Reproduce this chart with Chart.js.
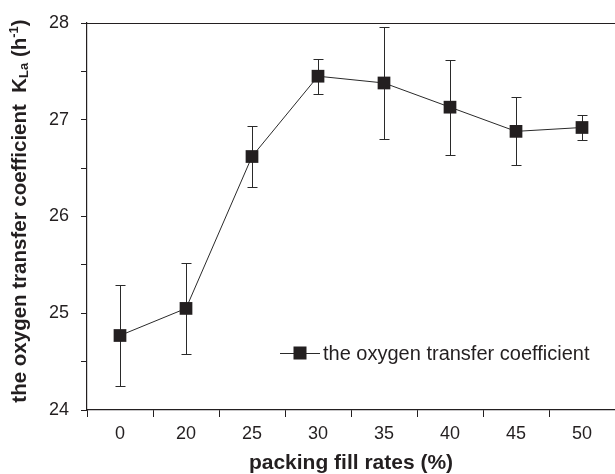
<!DOCTYPE html>
<html><head><meta charset="utf-8">
<script src="https://cdn.jsdelivr.net/npm/chart.js@4"></script>
<style>html,body{margin:0;padding:0;overflow:hidden;background:#fff}#wrap{width:624px;height:474px}</style>
</head><body><div id="wrap"><canvas id="c" width="624" height="474"></canvas></div>
<script>
const fillRates = ['0', '20', '25', '30', '35', '40', '45', '50'];
const klaValues = [24.77, 25.05, 26.62, 27.45, 27.38, 27.13, 26.88, 26.92];
const klaErrors = [0.52, 0.47, 0.32, 0.18, 0.58, 0.49, 0.35, 0.13];
const seriesName = 'the oxygen transfer coefficient';
const xTitle = 'packing fill rates (%)';
const yTitleParts = [['the oxygen transfer coefficient  K', 'n'], ['La', 'sub'], [' (h', 'n'], ['-1', 'sup'], [')', 'n']];
const yMin = 24, yMax = 28;

const INK = '#231f20';
const FAMILY = '"Liberation Sans", Arial, Helvetica, sans-serif';
Chart.defaults.font.family = FAMILY;
Chart.defaults.color = INK;

const errorBars = {
  id: 'errorBars',
  beforeDatasetsDraw(chart) {
    const ctx = chart.ctx, xs = chart.scales.x, ys = chart.scales.y;
    ctx.save();
    ctx.strokeStyle = '#2a2a2a';
    ctx.lineWidth = 1;
    klaValues.forEach((v, i) => {
      const px = Math.round(xs.getPixelForValue(i)) + 0.5;
      const top = Math.round(ys.getPixelForValue(v + klaErrors[i])) + 0.5;
      const bot = Math.round(ys.getPixelForValue(v - klaErrors[i])) + 0.5;
      ctx.beginPath();
      ctx.moveTo(px, top); ctx.lineTo(px, bot);
      ctx.moveTo(px - 5, top); ctx.lineTo(px + 5, top);
      ctx.moveTo(px - 5, bot); ctx.lineTo(px + 5, bot);
      ctx.stroke();
    });
    ctx.restore();
  }
};

const decorations = {
  id: 'decorations',
  afterDraw(chart) {
    const ctx = chart.ctx, a = chart.chartArea;
    ctx.save();
    // top frame line
    ctx.strokeStyle = INK;
    ctx.lineWidth = 1.2;
    ctx.beginPath();
    const ty = Math.round(a.top) + 0.5;
    ctx.moveTo(a.left, ty); ctx.lineTo(a.right, ty);
    ctx.stroke();

    // legend inside plot
    const ly = a.top + 330;
    const lx = a.left + 193;
    ctx.strokeStyle = '#2a2a2a';
    ctx.lineWidth = 1;
    ctx.beginPath();
    ctx.moveTo(lx, Math.round(ly) + 0.5); ctx.lineTo(lx + 40, Math.round(ly) + 0.5);
    ctx.stroke();
    ctx.fillStyle = INK;
    ctx.fillRect(lx + 20 - 6.5, ly - 6.5, 13, 13);
    ctx.font = '20px ' + FAMILY;
    ctx.textBaseline = 'middle';
    ctx.textAlign = 'left';
    ctx.fillText(seriesName, lx + 43, ly + 1);

    // y axis title with subscript / superscript
    const big = 'bold 20.5px ' + FAMILY, small = 'bold 13px ' + FAMILY;
    let total = 0;
    yTitleParts.forEach(([t, k]) => { ctx.font = k === 'n' ? big : small; total += ctx.measureText(t).width; });
    ctx.translate(20, 211);
    ctx.rotate(-Math.PI / 2);
    ctx.textBaseline = 'middle';
    let x = -total / 2;
    yTitleParts.forEach(([t, k]) => {
      ctx.font = k === 'n' ? big : small;
      const dy = k === 'sub' ? 4 : (k === 'sup' ? -6 : 0);
      ctx.fillText(t, x, dy);
      x += ctx.measureText(t).width;
    });
    ctx.restore();
  }
};

new Chart(document.getElementById('c'), {
  type: 'line',
  data: {
    labels: fillRates,
    datasets: [{
      label: seriesName,
      data: klaValues,
      borderColor: '#2a2a2a',
      borderWidth: 1,
      pointStyle: 'rect',
      pointRadius: 9,
      pointBackgroundColor: INK,
      pointBorderColor: INK,
      pointBorderWidth: 0,
      tension: 0,
      fill: false
    }]
  },
  options: {
    responsive: false,
    animation: false,
    layout: { padding: { top: 23, left: 0, right: 0, bottom: 0 } },
    plugins: { legend: { display: false }, tooltip: { enabled: false } },
    scales: {
      x: {
        type: 'category',
        offset: true,
        grid: { offset: true, drawOnChartArea: false, tickLength: 7, color: INK, tickColor: INK },
        border: { color: INK, width: 1.2 },
        ticks: { font: { size: 18 }, color: INK, padding: 6, maxRotation: 0 },
        title: { display: true, text: xTitle, font: { size: 21, weight: 'bold', lineHeight: 1.0 }, color: INK, padding: { top: 0, bottom: 0 } },
        afterFit(s) { s.height = 64; }
      },
      y: {
        min: yMin, max: yMax,
        grid: { drawOnChartArea: false, tickLength: 6, color: INK, tickColor: INK },
        border: { color: INK, width: 1.2 },
        ticks: { stepSize: 0.5, font: { size: 18 }, color: INK, padding: 12,
          callback: v => Number.isInteger(v) ? String(v) : '' },
        afterFit(s) { s.width = 87; }
      }
    }
  },
  plugins: [errorBars, decorations]
});
</script>
</body></html>
